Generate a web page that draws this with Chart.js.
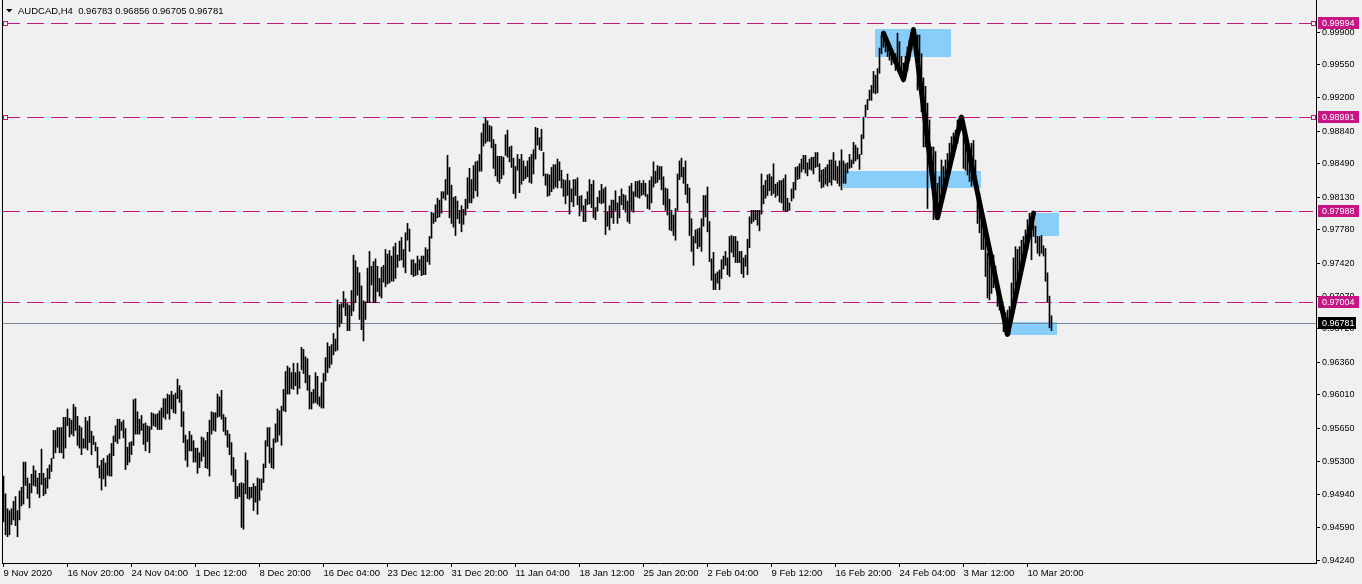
<!DOCTYPE html>
<html>
<head>
<meta charset="utf-8">
<title>AUDCAD,H4</title>
<script src="https://cdn.jsdelivr.net/npm/chart.js@4/dist/chart.umd.min.js"></script>
<style>
  html, body { margin:0; padding:0; background:#f0f0f0; }
  #wrap { width:1362px; height:584px; }
</style>
</head>
<body>
<div id="wrap"><canvas id="chart" width="1362" height="584"></canvas></div>
<script>
// ---- data (prices x 10000, H4 bars, oldest first) ----
// 9 Nov .. 8 Dec
const highA = [
  9514,9495,9479,9477,9479,9487,9492,9477,9498,9502,
  9529,9529,9512,9506,9516,9525,9520,9512,9517,9543,
  9517,9512,9522,9526,9533,9563,9563,9566,9566,9566,
  9577,9577,9586,9576,9574,9591,9588,9578,9568,9566,
  9554,9577,9573,9578,9562,9557,9550,9545,9525,9531,
  9533,9528,9536,9538,9549,9557,9568,9575,9575,9572,
  9574,9565,9545,9550,9551,9596,9597,9583,9575,9579,
  9570,9571,9568,9567,9582,9581,9580,9581,9584,9587,
  9597,9597,9602,9601,9605,9601,9603,9618,9611,9606,
  9583,9558,9553,9562,9558,9552,9544,9544,9539,9556,
  9555,9552,9561,9574,9583,9582,9582,9602,9599,9606,
  9580,9577,9563,9559,9550,9534,9521,9503,9506,9507,
  9506,9539,9531,9502,9502,9506,9503,9512,9511,9511,
  9527,9552,9566,9566
];
const lowA = [
  9465,9451,9449,9451,9462,9467,9461,9449,9467,9482,
  9484,9504,9490,9480,9496,9504,9503,9495,9491,9505,
  9493,9495,9501,9511,9519,9533,9539,9545,9539,9539,
  9533,9544,9568,9556,9559,9557,9563,9547,9544,9537,
  9544,9544,9542,9550,9537,9548,9541,9523,9512,9499,
  9511,9503,9515,9514,9514,9536,9551,9549,9554,9563,
  9555,9521,9526,9529,9537,9547,9559,9559,9559,9563,
  9548,9541,9551,9539,9564,9568,9567,9564,9564,9564,
  9577,9575,9581,9575,9586,9582,9581,9597,9593,9567,
  9550,9531,9524,9541,9541,9529,9529,9517,9523,9530,
  9535,9523,9522,9514,9559,9563,9562,9577,9578,9575,
  9562,9558,9545,9537,9515,9508,9490,9490,9492,9459,
  9457,9495,9490,9489,9491,9477,9486,9473,9488,9499,
  9507,9523,9546,9528
];
// 8 Dec .. 14 Jan
const highB = [
  9544,9554,9570,9586,9584,9589,9607,9626,9632,9630,
  9625,9635,9625,9635,9626,9652,9650,9642,9640,9622,
  9604,9607,9625,9621,9599,9614,9624,9641,9657,9653,
  9655,9667,9661,9703,9698,9699,9712,9704,9699,9697,
  9713,9751,9745,9738,9732,9718,9702,9701,9737,9755,
  9739,9744,9747,9739,9726,9738,9740,9757,9752,9756,
  9750,9760,9764,9751,9766,9770,9757,9775,9785,9779,
  9746,9746,9742,9750,9746,9750,9750,9759,9757,9771,
  9797,9796,9805,9812,9810,9819,9819,9832,9858,9845,
  9826,9813,9814,9809,9799,9804,9800,9811,9834,9844,
  9832,9847,9851,9852,9859,9882,9892,9898,9895,9890,
  9889,9875,9870,9857,9857,9857,9856,9880,9885,9867,
  9868,9855,9846,9859,9854,9859,9852,9846,9852,9856,
  9859,9864
];
const lowB = [
  9523,9522,9550,9551,9558,9547,9584,9583,9602,9602,
  9608,9607,9611,9602,9608,9628,9624,9614,9606,9586,
  9586,9592,9593,9591,9589,9587,9587,9616,9625,9630,
  9634,9644,9648,9649,9674,9678,9695,9686,9670,9670,
  9686,9691,9700,9708,9682,9671,9659,9682,9700,9700,
  9719,9700,9700,9712,9707,9705,9722,9717,9720,9721,
  9723,9723,9726,9738,9745,9746,9738,9732,9767,9755,
  9730,9728,9729,9730,9735,9729,9730,9730,9744,9741,
  9769,9785,9787,9791,9792,9796,9812,9810,9816,9791,
  9785,9781,9772,9790,9785,9776,9784,9794,9801,9807,
  9807,9812,9820,9814,9841,9841,9868,9871,9873,9873,
  9866,9844,9836,9830,9828,9833,9837,9858,9856,9851,
  9845,9817,9812,9842,9818,9827,9831,9833,9835,9829,
  9828,9838
];
// 14 Jan .. 15 Feb
const highC = [
  9888,9887,9877,9886,9861,9838,9838,9837,9845,9848,
  9848,9854,9851,9842,9832,9831,9838,9831,9822,9832,
  9832,9834,9814,9815,9804,9811,9819,9832,9827,9831,
  9802,9813,9820,9827,9822,9824,9797,9804,9810,9810,
  9820,9807,9814,9822,9816,9815,9809,9825,9828,9819,
  9830,9830,9831,9828,9831,9828,9816,9831,9835,9851,
  9841,9847,9846,9846,9835,9823,9822,9811,9799,9794,
  9801,9838,9852,9855,9845,9852,9827,9823,9790,9771,
  9778,9779,9780,9790,9815,9815,9824,9787,9747,9754,
  9731,9733,9735,9746,9750,9755,9748,9771,9772,9771,
  9771,9766,9755,9755,9748,9751,9768,9792,9799,9799,
  9799,9799,9799,9838,9826,9831,9837,9838,9835,9849,
  9827,9829,9831,9831,9833,9837,9812,9807,9822,9829,
  9845,9846,9849
];
const lowC = [
  9854,9869,9864,9863,9836,9826,9814,9815,9819,9822,
  9824,9823,9831,9823,9814,9806,9815,9795,9808,9803,
  9815,9805,9793,9799,9787,9787,9805,9806,9802,9791,
  9789,9798,9807,9806,9807,9773,9782,9778,9791,9785,
  9799,9785,9791,9805,9800,9797,9787,9785,9799,9797,
  9814,9813,9812,9815,9816,9814,9801,9800,9807,9824,
  9828,9829,9832,9821,9805,9799,9794,9778,9777,9772,
  9767,9799,9832,9835,9828,9816,9807,9772,9755,9740,
  9764,9758,9760,9755,9782,9792,9776,9744,9724,9714,
  9714,9721,9714,9726,9736,9740,9730,9728,9754,9749,
  9743,9743,9743,9731,9727,9739,9730,9759,9785,9787,
  9789,9783,9777,9795,9806,9812,9815,9820,9815,9817,
  9813,9815,9808,9807,9799,9798,9798,9799,9809,9812,
  9821,9832,9833
];
// 15 Feb .. 12 Mar 20:00
const highD = [
  9854,9858,9858,9850,9854,9856,9856,9861,9861,9849,
  9842,9843,9845,9848,9853,9853,9861,9852,9846,9852,
  9864,9852,9849,9850,9859,9853,9872,9869,9866,9859,
  9880,9899,9912,9918,9928,9933,9948,9944,9951,9973,
  9987,9989,9985,9974,9972,9971,9967,9967,9989,9980,
  9964,9957,9964,9974,9982,9989,9993,9988,9987,9987,
  9967,9941,9932,9914,9896,9867,9867,9862,9828,9835,
  9853,9846,9853,9860,9871,9878,9882,9885,9896,9899,
  9899,9882,9878,9860,9853,9871,9874,9853,9825,9817,
  9800,9789,9775,9753,9760,9751,9751,9739,9721,9707,
  9700,9696,9689,9692,9696,9721,9748,9760,9757,9760,
  9767,9771,9778,9789,9796,9791,9796,9782,9771,9771,
  9772,9761,9758,9732,9707,9686
];
const lowD = [
  9840,9843,9839,9836,9843,9842,9838,9845,9846,9830,
  9823,9824,9827,9825,9829,9826,9832,9831,9828,9825,
  9821,9828,9828,9839,9844,9845,9849,9852,9854,9843,
  9859,9876,9899,9907,9917,9917,9925,9924,9925,9946,
  9967,9974,9969,9964,9960,9955,9957,9949,9953,9948,
  9941,9939,9944,9949,9960,9971,9978,9969,9928,9955,
  9905,9867,9867,9801,9853,9839,9789,9791,9792,9803,
  9810,9821,9825,9839,9846,9849,9860,9867,9871,9882,
  9885,9844,9842,9837,9830,9825,9832,9825,9785,9775,
  9757,9757,9728,9705,9703,9710,9716,9725,9696,9692,
  9689,9669,9666,9667,9666,9682,9689,9703,9717,9728,
  9732,9742,9750,9757,9771,9746,9771,9764,9753,9750,
  9753,9750,9723,9701,9673,9670
];

const lastBar = ['0.96783', '0.96856', '0.96705', '0.96781']; // O H L C
const symbolTitle = 'AUDCAD,H4';

// time axis labels, one every 32 bars
const xTickIdx = [0,32,64,96,128,160,192,224,256,288,320,352,384,416,448,480,512];
const xTickLabels = ['9 Nov 2020','16 Nov 20:00','24 Nov 04:00','1 Dec 12:00','8 Dec 20:00',
  '16 Dec 04:00','23 Dec 12:00','31 Dec 20:00','11 Jan 04:00','18 Jan 12:00','25 Jan 20:00',
  '2 Feb 04:00','9 Feb 12:00','16 Feb 20:00','24 Feb 04:00','3 Mar 12:00','10 Mar 20:00'];

const yTicks = [0.99900,0.99550,0.99200,0.98840,0.98490,0.98130,0.97780,0.97420,0.97070,
  0.96720,0.96360,0.96010,0.95650,0.95300,0.94940,0.94590,0.94240];

// horizontal levels and current bid
const levelPrices = [0.99994, 0.98991, 0.97988, 0.97004];
const levelMarked = [true, true, false, false];
const bidPrice = 0.96781;

// zigzag swing points (bar index, price x 10000)
const zigzagIdx = [440, 450, 455, 467, 479, 502, 515];
const zigzagPrice = [9989, 9939, 9993, 9791, 9899, 9666, 9796];

// supply / demand zones (bar index range, price range)
const zoneFrom = [435.75, 419.75, 515.75, 502.25];
const zoneTo = [473.75, 488.75, 527.75, 526.75];
const zoneTop = [0.99930, 0.98407, 0.97957, 0.96788];
const zoneBottom = [0.99640, 0.98225, 0.97720, 0.96649];

// ---- build ----
const highs = [...highA, ...highB, ...highC, ...highD];
const lows = [...lowA, ...lowB, ...lowC, ...lowD];
const barData = highs.map((h, i) => ({ x: i, y: [lows[i] / 1e4, h / 1e4] }));
const zigzagData = zigzagIdx.map((x, k) => ({ x, y: zigzagPrice[k] / 1e4 }));

const BG = '#f0f0f0';
const MAGENTA = '#c71585';
const ZONE = '#87cefa';
const AXIS_FONT = { family: 'Liberation Sans', size: 9 };
const X_FONT = { family: 'Liberation Sans', size: 9.5 };

function noPad(s){ s.paddingLeft = 0; s.paddingRight = 0; s.paddingTop = 0; s.paddingBottom = 0; }

const overlay = {
  id: 'overlay',
  beforeDraw(chart){
    const c = chart.ctx;
    c.save();
    c.fillStyle = BG;
    c.fillRect(0, 0, chart.width, chart.height);
    c.restore();
  },
  beforeDatasetsDraw(chart){
    const c = chart.ctx, xs = chart.scales.x, ys = chart.scales.y, a = chart.chartArea;
    c.save();
    // zones
    c.fillStyle = ZONE;
    zoneFrom.forEach((f, k) => {
      const x0 = Math.round(xs.getPixelForValue(f)), x1 = Math.round(xs.getPixelForValue(zoneTo[k]));
      const y0 = Math.round(ys.getPixelForValue(zoneTop[k])), y1 = Math.round(ys.getPixelForValue(zoneBottom[k]));
      c.fillRect(x0, y0, x1 - x0, y1 - y0);
    });
    // bid line
    c.fillStyle = '#778899';
    c.fillRect(a.left, Math.round(ys.getPixelForValue(bidPrice)), a.right - a.left, 1);
    // level lines, dashed 17 on / 7 off
    c.fillStyle = MAGENTA;
    levelPrices.forEach(p => {
      const y = Math.round(ys.getPixelForValue(p));
      for(let x = a.left + 1; x < a.right - 3; x += 24){
        c.fillRect(x, y, Math.min(17, a.right - 3 - x), 1);
      }
    });
    c.restore();
  },
  afterDraw(chart){
    const c = chart.ctx, ys = chart.scales.y, a = chart.chartArea;
    c.save();
    // left frame
    c.fillStyle = '#000';
    c.fillRect(a.left, a.top, 1, a.bottom - a.top);
    // selection squares on marked levels
    levelPrices.forEach((p, k) => {
      if(!levelMarked[k]) return;
      const y = Math.round(ys.getPixelForValue(p));
      [a.left + 1, a.right - 5].forEach(x => {
        c.fillStyle = MAGENTA;
        c.fillRect(x, y - 2, 5, 5);
        c.fillStyle = BG;
        c.fillRect(x + 1, y - 1, 3, 3);
      });
    });
    // price tags on the axis
    c.font = '9px "Liberation Sans"';
    c.textBaseline = 'middle';
    c.textAlign = 'left';
    const tag = (p, fill, w) => {
      const y = Math.round(ys.getPixelForValue(p));
      c.fillStyle = fill;
      c.fillRect(a.right + 2, y - 6, w, 12);
      c.fillStyle = '#fff';
      c.fillText(p.toFixed(5), a.right + 6, y + 0.5);
    };
    levelPrices.forEach(p => tag(p, MAGENTA, 41));
    tag(bidPrice, '#000', 38);
    // title
    c.fillStyle = '#000';
    c.beginPath(); c.moveTo(6, 9); c.lineTo(12.5, 9); c.lineTo(9.25, 12.5); c.closePath(); c.fill();
    c.font = '9.5px "Liberation Sans"';
    c.fillText(symbolTitle + '  ' + lastBar.join(' '), 18, 11);
    c.restore();
  }
};

new Chart(document.getElementById('chart'), {
  type: 'bar',
  data: {
    datasets: [
      { type: 'line', data: zigzagData, borderColor: '#000', borderWidth: 5, pointRadius: 0,
        tension: 0, borderJoinStyle: 'round', borderCapStyle: 'round', order: 0 },
      { type: 'bar', data: barData, backgroundColor: '#000', borderWidth: 0, barThickness: 1, order: 1 }
    ]
  },
  options: {
    responsive: false,
    animation: false,
    events: [],
    layout: { autoPadding: false, padding: { left: 2, top: 0, right: 0, bottom: 0 } },
    plugins: { legend: { display: false }, tooltip: { enabled: false } },
    scales: {
      x: {
        type: 'linear', position: 'bottom', min: -0.75, max: 656.25, offset: false,
        afterBuildTicks: s => { s.ticks = xTickIdx.map(v => ({ value: v })); },
        afterFit: s => { s.height = 21; noPad(s); },
        ticks: { autoSkip: false, maxRotation: 0, align: 'start', padding: 1, color: '#000', font: X_FONT,
          callback: v => xTickLabels[xTickIdx.indexOf(v)] },
        grid: { drawOnChartArea: false, tickLength: 4, color: '#000', offset: false },
        border: { color: '#000' }
      },
      y: {
        position: 'right', min: 0.94208, max: 1.00246,
        afterBuildTicks: s => { s.ticks = yTicks.map(v => ({ value: v })); },
        afterFit: s => { s.width = 46; noPad(s); },
        ticks: { padding: 2, color: '#000', font: AXIS_FONT, callback: v => v.toFixed(5) },
        grid: { drawOnChartArea: false, tickLength: 4, color: '#000' },
        border: { color: '#000' }
      }
    }
  },
  plugins: [overlay]
});
</script>
</body>
</html>
